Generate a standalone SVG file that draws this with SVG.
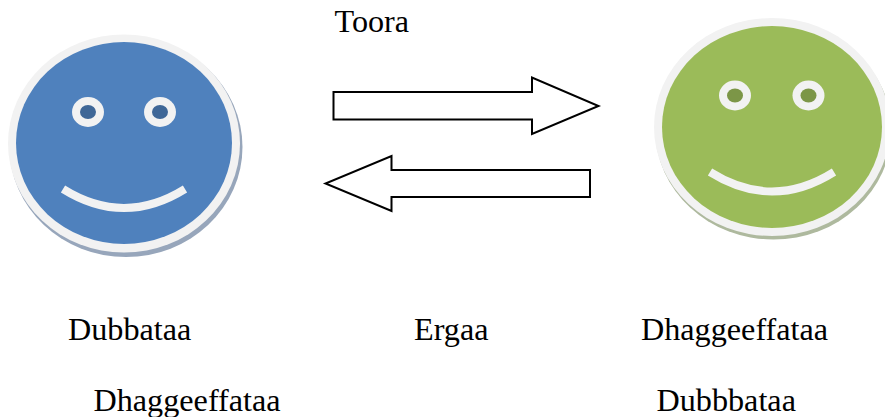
<svg xmlns="http://www.w3.org/2000/svg" width="885" height="417" viewBox="0 0 885 417">
<defs><style>
.ring{fill:#f2f2f2}
.eye{fill:#f2f2f2}
.smile{fill:none;stroke:#f2f2f2;stroke-width:8}
.arrow{fill:#fff;stroke:#000;stroke-width:2;stroke-linejoin:miter}
text{font-family:"Liberation Serif","Times New Roman",serif;font-size:32.2px;fill:#000}
</style>
<filter id="soft" x="-5%" y="-5%" width="110%" height="110%"><feGaussianBlur stdDeviation="0.5"/></filter></defs>
<rect width="885" height="417" fill="#fff"/>
<g id="node-dubbataa">
<ellipse cx="126" cy="147" rx="116.500" ry="110" fill="#97a6bb" filter="url(#soft)"/>
<ellipse class="ring" cx="124" cy="143.500" rx="116" ry="109"/>
<ellipse cx="124" cy="143" rx="108" ry="101" fill="#4f81bd"/>
<ellipse class="eye" cx="88" cy="112" rx="16" ry="15"/><ellipse cx="88" cy="112" rx="8" ry="7" fill="#3f6797"/>
<ellipse class="eye" cx="160" cy="112" rx="16" ry="15"/><ellipse cx="160" cy="112" rx="8" ry="7" fill="#3f6797"/>
<path class="smile" d="M63 189Q124 227 185 189"/>
</g>
<g id="node-dhaggeeffataa">
<ellipse cx="773.500" cy="130.500" rx="118" ry="109" fill="#aeb99e" filter="url(#soft)"/>
<ellipse class="ring" cx="772" cy="127" rx="118" ry="109"/>
<ellipse cx="772" cy="127" rx="110" ry="101" fill="#9bbb59"/>
<ellipse class="eye" cx="735" cy="95.500" rx="16" ry="15"/><ellipse cx="735" cy="95.500" rx="8" ry="7" fill="#7c9647"/>
<ellipse class="eye" cx="808.500" cy="95.500" rx="16" ry="15"/><ellipse cx="808.500" cy="95.500" rx="8" ry="7" fill="#7c9647"/>
<path class="smile" d="M710 172Q772 211 834 172"/>
</g>
<g id="connectors">
<path class="arrow" d="M333.500 92H532V77.500L598.500 106L532 134V119.500H333.500Z"/>
<path class="arrow" d="M590 170H391.500V156L325.500 183.500L391.500 211V197H590Z"/>
</g>
<g id="labels">
<text x="334.500" y="32">Toora</text>
<text x="68" y="340">Dubbataa</text>
<text x="414" y="340">Ergaa</text>
<text x="641" y="340">Dhaggeeffataa</text>
<text x="93.500" y="411">Dhaggeeffataa</text>
<text x="656.500" y="411">Dubbbataa</text>
</g>
</svg>
